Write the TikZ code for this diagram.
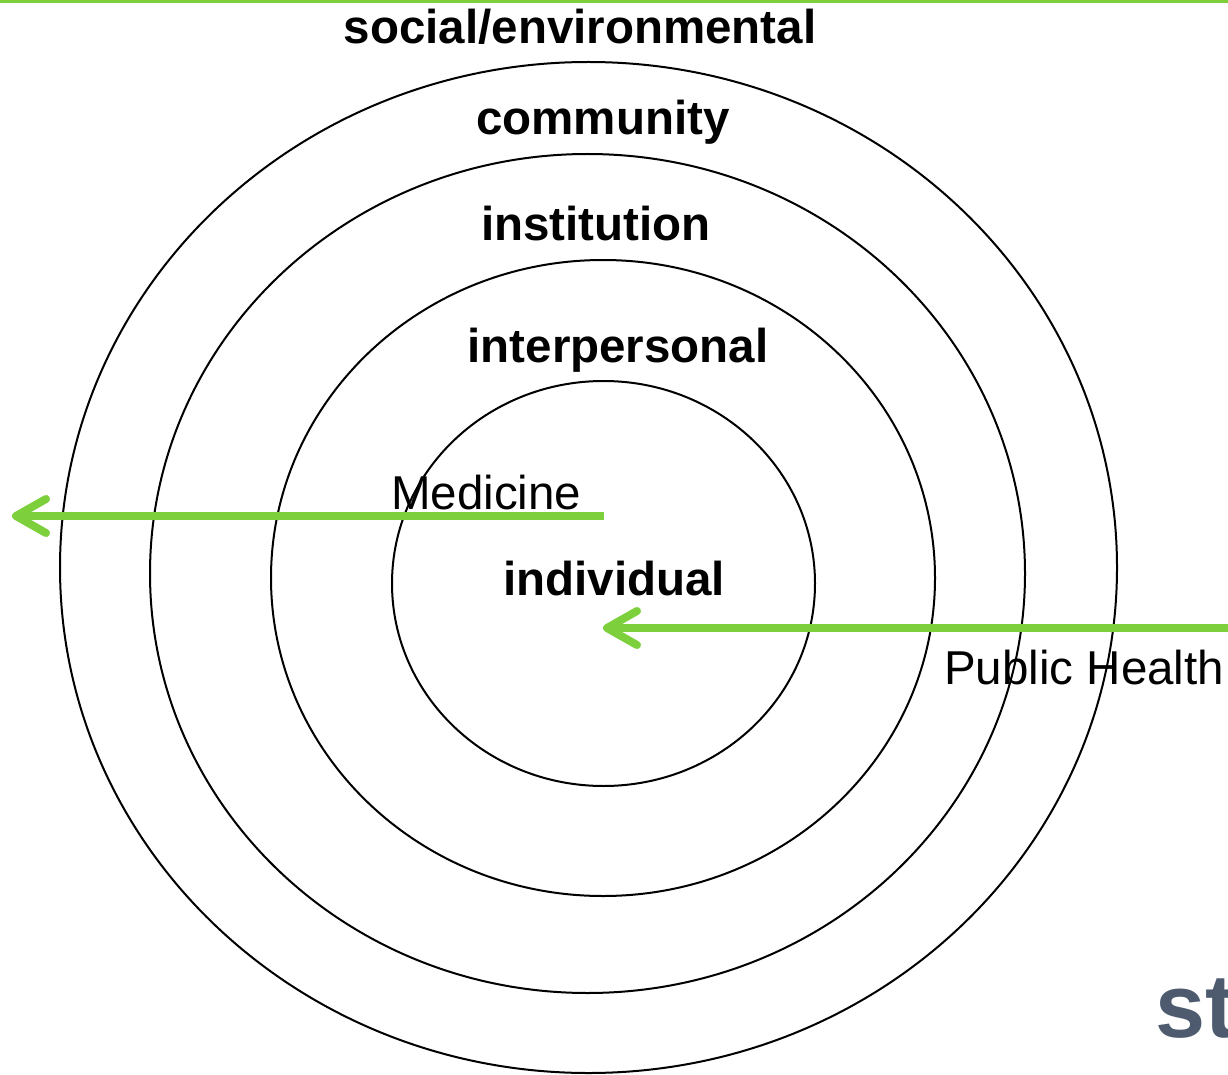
\documentclass[tikz,border=0pt]{standalone}
\usepackage{fontspec}
\setmainfont{Liberation Sans}
\usetikzlibrary{arrows.meta,positioning}
\definecolor{arrowgreen}{RGB}{126,207,60}
\definecolor{slidegray}{RGB}{78,91,111}
\tikzset{
    ring/.style={draw=black, line width=2pt},
    levellabel/.style={font=\fontsize{47.5}{57}\selectfont\bfseries, inner sep=0pt, anchor=base},
    fieldlabel/.style={font=\fontsize{47.5}{57}\selectfont, inner sep=0pt, anchor=base west},
    fieldarrow/.style={arrowgreen, line width=8pt, -{Straight Barb[length=30pt,width=34pt,line width=8pt,round]}}
}

\begin{document}
\begin{tikzpicture}[x=1pt, y=-1pt]

    \useasboundingbox (0, 0) rectangle (1228, 1075);

    % ═══════════════════════════════════════════════════════════════════════════
    % LIGNE DU HAUT
    % ═══════════════════════════════════════════════════════════════════════════

    \draw[arrowgreen, line width=3pt] (0, 1.5) -- (1228, 1.5);

    % ═══════════════════════════════════════════════════════════════════════════
    % CERCLES
    % ═══════════════════════════════════════════════════════════════════════════

    \draw[ring] (588.5, 567.5) ellipse [x radius=528.5, y radius=505.5];
    \draw[ring] (587.5, 573.5) ellipse [x radius=437.5, y radius=419.5];
    \draw[ring] (603, 578) ellipse [x radius=332, y radius=318];
    \draw[ring] (603.5, 583.5) ellipse [x radius=211.5, y radius=202.5];

    % ═══════════════════════════════════════════════════════════════════════════
    % NIVEAUX
    % ═══════════════════════════════════════════════════════════════════════════

    \node[levellabel] (social) at (580, 44) {social/environmental};
    \node[levellabel] (community) at (603, 135) {community};
    \node[levellabel] (institution) at (596, 241) {institution};
    \node[levellabel] (interpersonal) at (618, 362) {interpersonal};
    \node[levellabel] (individual) at (614, 595) {individual};

    % ═══════════════════════════════════════════════════════════════════════════
    % FLECHES
    % ═══════════════════════════════════════════════════════════════════════════

    % Medicine : du centre vers l'extérieur
    \node[fieldlabel] (medicine) at (391, 509) {Medicine};
    \coordinate (medStart) at (604, 516);
    \coordinate (medEnd) at (12, 516);
    \draw[fieldarrow] (medStart) -- (medEnd);

    % Public Health : de l'extérieur vers le centre
    \node[fieldlabel] (publichealth) at (944, 684) {Public Health};
    \coordinate (phStart) at (1228, 628);
    \coordinate (phEnd) at (603, 628);
    \draw[fieldarrow] (phStart) -- (phEnd);

    % Texte coupé
    \node[font=\fontsize{90}{100}\selectfont\bfseries, text=slidegray, inner sep=0pt, anchor=base west] (cut) at (1155, 1037) {st};

\end{tikzpicture}
\end{document}
